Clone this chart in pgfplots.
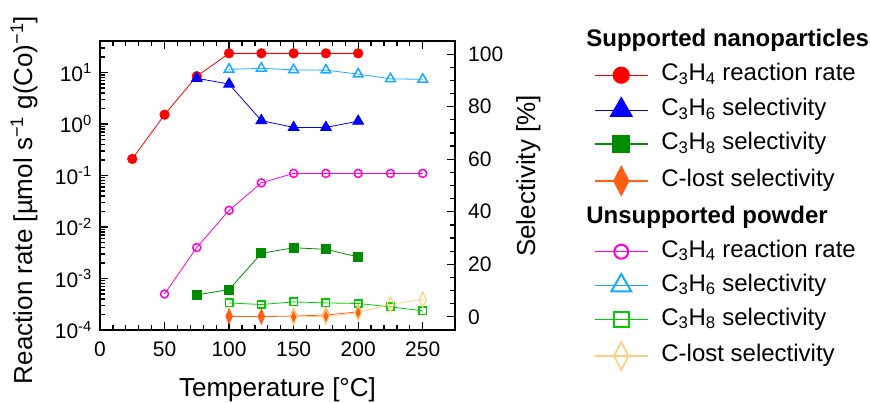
\documentclass[border=0pt]{standalone}
\usepackage{fontspec}
\setmainfont{Liberation Sans}
\usepackage{pgfplots}
\pgfplotsset{compat=1.18}

\definecolor{cRed}{RGB}{255,0,0}
\definecolor{cBlue}{RGB}{0,0,255}
\definecolor{cGreen}{RGB}{0,140,0}
\definecolor{cOrange}{RGB}{255,95,20}
\definecolor{cMagenta}{RGB}{255,0,215}
\definecolor{cLBlue}{RGB}{25,170,255}
\definecolor{cLGreen}{RGB}{0,205,0}
\definecolor{cLOrange}{RGB}{255,208,128}

\newcommand{\tickfont}{\fontsize{21bp}{25bp}\selectfont}
\newcommand{\labfont}{\fontsize{26bp}{30bp}\selectfont}

\pgfplotsset{
  /pgf/number format/assume math mode=true,
  base/.style={
    at={(100bp,73bp)}, anchor=south west,
    width=355bp, height=289bp, scale only axis,
    xmin=0, xmax=275,
    tick align=inside,
    major tick length=8bp, minor tick length=5bp,
    axis line style={line width=1.6bp},
    every tick/.style={line width=1.2bp, black},
    tick label style={font=\tickfont},
    label style={font=\labfont},
    clip=false,
  },
  % plot styles
  supRate/.style={cRed, line width=0.8bp, mark=*, mark size=4.7bp},
  supC6/.style={cBlue, line width=0.8bp, mark=triangle*, mark size=6.3bp},
  supC8/.style={cGreen, line width=0.8bp, mark=square*, mark size=4.5bp},
  supCl/.style={cOrange, line width=0.8bp, mark=diamond*, mark size=7.5bp, mark options={xscale=0.6}},
  unRate/.style={cMagenta, line width=0.8bp, mark=o, mark size=4bp, mark options={fill=white, line width=1.5bp}},
  unC6/.style={cLBlue, line width=0.8bp, mark=triangle, mark size=5.6bp, mark options={fill=white, line width=1.5bp}},
  unC8/.style={cLGreen, line width=0.8bp, mark=square, mark size=3.7bp, mark options={fill=white, line width=1.5bp}},
  unCl/.style={cLOrange, line width=0.8bp, mark=diamond, mark size=7.5bp, mark options={xscale=0.6, line width=1.2bp}},
}

\begin{document}
\begin{tikzpicture}
\useasboundingbox (0,0) rectangle (870bp,403bp);

% left axis: reaction rates (log)
\begin{axis}[base,
  ymode=log, ymin=1e-4, ymax=41,
  xtick={0,50,100,150,200,250}, minor x tick num=4,
  xtick pos=both, ytick pos=left,
  ytick={1e-4,1e-3,1e-2,1e-1,1,10},
  yticklabels={10\textsuperscript{-4},10\textsuperscript{-3},10\textsuperscript{-2},
               10\textsuperscript{-1},10\textsuperscript{0},10\textsuperscript{1}},
  minor ytick={2e-4,3e-4,4e-4,5e-4,6e-4,7e-4,8e-4,9e-4,
               2e-3,3e-3,4e-3,5e-3,6e-3,7e-3,8e-3,9e-3,
               2e-2,3e-2,4e-2,5e-2,6e-2,7e-2,8e-2,9e-2,
               0.2,0.3,0.4,0.5,0.6,0.7,0.8,0.9,
               2,3,4,5,6,7,8,9,20,30,40},
  yticklabel style={anchor=east, inner sep=0pt, xshift=-8bp},
  xticklabel style={anchor=base, inner sep=0pt, yshift=-26bp},
  xlabel={Temperature [°C]},
  xlabel style={at={(axis description cs:0.5,-0.23)}, anchor=base},
  ylabel={Reaction rate [µmol s\textsuperscript{−1} g(Co)\textsuperscript{−1}]},
  ylabel style={at={(axis description cs:-0.1915,0.45)}, anchor=base},
]
\addplot[supRate] coordinates {
  (25,0.21)(50,1.52)(75,8.5)(100,23.6)(125,23.6)(150,23.6)(175,23.6)(200,23.6)};
\addplot[unRate] coordinates {
  (50,5.0e-4)(75,4.0e-3)(100,0.0211)(125,0.072)(150,0.110)(175,0.110)(200,0.110)(225,0.110)(250,0.110)};
\end{axis}

% right axis: selectivities
\begin{axis}[base,
  ymin=-5, ymax=105,
  hide x axis,
  ytick={0,20,40,60,80,100}, minor y tick num=3,
  ytick pos=right,
  yticklabel style={anchor=west, inner sep=0pt, xshift=13bp},
  ylabel={Selectivity [\%]},
  ylabel style={at={(axis description cs:1.2254,0.533)}, anchor=base, rotate=0},
  legend image code/.code={\draw[mark repeat=2,mark phase=2]
    plot coordinates {(0bp,0bp)(26.5bp,0bp)(53bp,0bp)};},
  legend cell align=left,
  legend style={at={(1.3915,1.0394)}, anchor=north west, draw=none, fill=none,
    inner sep=0pt, row sep=10.9bp, column sep=13bp,
    font=\fontsize{24bp}{28bp}\selectfont,
    nodes={inner sep=0pt, text height=17bp, text depth=6bp}},
]
\addplot[supC6, forget plot] coordinates {
  (75,90.8)(100,88.6)(125,74.7)(150,72.1)(175,72.1)(200,74.5)};
\addplot[supC8, forget plot] coordinates {
  (75,8.35)(100,10.4)(125,24.2)(150,26.3)(175,25.7)(200,22.8)};
\addplot[supCl, forget plot] coordinates {
  (100,0.2)(125,0.1)(150,0.3)(175,0.7)(200,1.9)};
\addplot[unC6, forget plot] coordinates {
  (100,94.2)(125,94.6)(150,94.0)(175,93.9)(200,92.4)(225,90.6)(250,90.4)};
\addplot[unC8, forget plot] coordinates {
  (100,5.3)(125,4.7)(150,5.7)(175,5.3)(200,5.1)(225,3.8)(250,2.3)};
\addplot[unCl, forget plot] coordinates {
  (150,0.0)(175,0.2)(200,1.6)(225,4.8)(250,6.6)};

\addlegendimage{empty legend}
\addlegendentry{\hspace*{-75bp}\textbf{Supported nanoparticles}}
\addlegendimage{cRed, line width=1.2bp, mark=*, mark size=8bp}
\addlegendentry{C\textsubscript{3}H\textsubscript{4} reaction rate}
\addlegendimage{cBlue, line width=1.2bp, mark=triangle*, mark size=12.5bp}
\addlegendentry{C\textsubscript{3}H\textsubscript{6} selectivity}
\addlegendimage{cGreen, line width=1.2bp, mark=square*, mark size=8.5bp}
\addlegendentry{C\textsubscript{3}H\textsubscript{8} selectivity}
\addlegendimage{cOrange, line width=1.2bp, mark=diamond*, mark size=14.5bp, mark options={xscale=0.69}}
\addlegendentry{C-lost selectivity}
\addlegendimage{empty legend}
\addlegendentry{\hspace*{-75bp}\textbf{Unsupported powder}}
\addlegendimage{cMagenta, line width=1.2bp, mark=o, mark size=7bp, mark options={fill=white, line width=2bp}}
\addlegendentry{C\textsubscript{3}H\textsubscript{4} reaction rate}
\addlegendimage{cLBlue, line width=1.2bp, mark=triangle, mark size=11.5bp, mark options={fill=white, line width=2bp}}
\addlegendentry{C\textsubscript{3}H\textsubscript{6} selectivity}
\addlegendimage{cLGreen, line width=1.2bp, mark=square, mark size=7.5bp, mark options={fill=white, line width=2bp}}
\addlegendentry{C\textsubscript{3}H\textsubscript{8} selectivity}
\addlegendimage{cLOrange, line width=1.2bp, mark=diamond, mark size=14bp, mark options={xscale=0.69, line width=1.8bp}}
\addlegendentry{C-lost selectivity}
\end{axis}
\end{tikzpicture}
\end{document}
